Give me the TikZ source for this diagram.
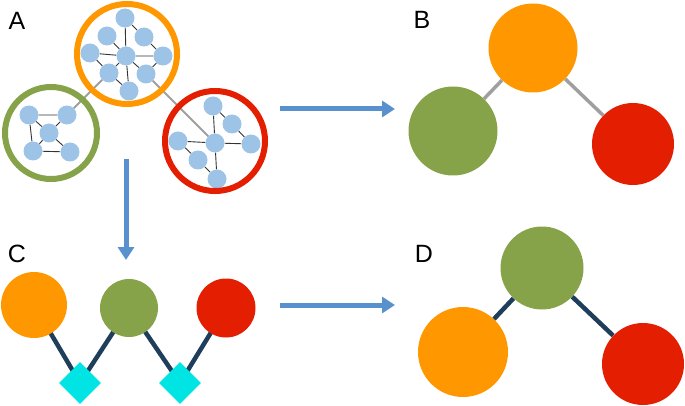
\documentclass[tikz,border=0pt]{standalone}
\usepackage{fontspec}
\setmainfont{Liberation Sans}
\usetikzlibrary{shapes.geometric,arrows.meta,backgrounds}
\definecolor{clOrange}{RGB}{255,152,0}
\definecolor{clGreen}{RGB}{134,163,74}
\definecolor{clRed}{RGB}{228,30,0}
\definecolor{clMember}{RGB}{157,195,230}
\definecolor{clLink}{RGB}{30,62,92}
\definecolor{clArrow}{RGB}{88,145,205}
\definecolor{clKite}{RGB}{0,228,228}
\tikzset{
  member/.style={circle, fill=clMember, minimum size=19pt, inner sep=0pt},
  ring/.style={circle, draw=#1, line width=6pt, inner sep=0pt},
  blob/.style={circle, fill=#1, inner sep=0pt},
  kite/.style={diamond, fill=clKite, minimum width=42pt, minimum height=42pt, inner sep=0pt},
  tie/.style={line width=0.9pt, black!80},
  bridge/.style={line width=2pt, gray!75},
  thickbridge/.style={line width=3.5pt, gray!75},
  link/.style={line width=4.5pt, clLink},
  flow/.style={line width=5pt, clArrow, -{Triangle[length=13pt,width=16pt]}},
  panel/.style={inner sep=0pt, font=\fontsize{25}{30}\selectfont}
}
\begin{document}
\begin{tikzpicture}[x=1pt,y=-1pt]
	\useasboundingbox (0,0) rectangle (685,406);

	% panel A: the three clusters
	\draw
	node[member] at (125,18) (oT) {}
	node[member] at (107,36) (oUL) {}
	node[member] at (144,37) (oUR) {}
	node[member] at (90,53) (oL) {}
	node[member] at (126,56) (oC) {}
	node[member] at (163,56) (oR) {}
	node[member] at (109,73) (oLL) {}
	node[member] at (146,74) (oLR) {}
	node[member] at (129,91) (oB) {}

	node[member] at (29,115) (gTL) {}
	node[member] at (67,115) (gTR) {}
	node[member] at (49,133) (gC) {}
	node[member] at (33,151) (gBL) {}
	node[member] at (70,152) (gBR) {}

	node[member] at (213,106) (rT) {}
	node[member] at (232,124) (rUR) {}
	node[member] at (178,141) (rL) {}
	node[member] at (215,143) (rC) {}
	node[member] at (251,144) (rR) {}
	node[member] at (198,160) (rLL) {}
	node[member] at (217,179) (rB) {};

	\node[ring=clOrange, minimum size=100pt] at (127,54) (orangering) {};
	\node[ring=clGreen, minimum size=92pt] at (51,133) (greenring) {};
	\node[ring=clRed, minimum size=100pt] at (215,141) (redring) {};

	% panel B
	\node[blob=clOrange, minimum size=89pt] at (533,48) (bOrange) {};
	\node[blob=clGreen, minimum size=89pt] at (453,131) (bGreen) {};
	\node[blob=clRed, minimum size=82pt] at (633,144) (bRed) {};

	% panel C
	\node[blob=clOrange, minimum size=66pt] at (34,305) (cOrange) {};
	\node[blob=clGreen, minimum size=58pt] at (129,308) (cGreen) {};
	\node[blob=clRed, minimum size=59pt] at (226,308) (cRed) {};
	\node[kite] at (80,383) (cKiteA) {};
	\node[kite] at (180,383) (cKiteB) {};

	% panel D
	\node[blob=clGreen, minimum size=83pt] at (542,268) (dGreen) {};
	\node[blob=clOrange, minimum size=90pt] at (463,352) (dOrange) {};
	\node[blob=clRed, minimum size=82pt] at (643,364) (dRed) {};

	% labels
	\node[panel] at (17,21) (labA) {A};
	\node[panel] at (422,20) (labB) {B};
	\node[panel] at (17,254) (labC) {C};
	\node[panel] at (424,254) (labD) {D};

	% arrows
	\coordinate (abStart) at (280,109);
	\coordinate (abEnd) at (395,109);
	\coordinate (acStart) at (126,159);
	\coordinate (acEnd) at (126,260);
	\coordinate (cdStart) at (280,305);
	\coordinate (cdEnd) at (395,305);
	\draw[flow] (abStart) -- (abEnd);
	\draw[flow] (acStart) -- (acEnd);
	\draw[flow] (cdStart) -- (cdEnd);

	\begin{scope}[on background layer]
	\draw[tie]
	(oT) -- (oC)
	(oT) -- (oUR)
	(oUL) -- (oC)
	(oUR) -- (oR)
	(oL) -- (oC)
	(oC) -- (oR)
	(oL) -- (oLL)
	(oC) -- (oLL)
	(oC) -- (oB)
	(oC) -- (oLR)
	(oLL) -- (oB)
	(oR) -- (oLR);
	\draw[tie]
	(gTL) -- (gTR)
	(gTL) -- (gBL)
	(gBL) -- (gBR)
	(gC) -- (gTL)
	(gC) -- (gTR)
	(gC) -- (gBL)
	(gC) -- (gBR);
	\draw[tie]
	(rT) -- (rC)
	(rT) -- (rUR)
	(rUR) -- (rR)
	(rC) -- (rR)
	(rL) -- (rC)
	(rL) -- (rLL)
	(rLL) -- (rB)
	(rC) -- (rB);
	\draw[bridge]
	(gTR) -- (oLL)
	(oLR) -- (rC);
	\draw[thickbridge]
	(bGreen) -- (bOrange)
	(bOrange) -- (bRed);
	\draw[link]
	(cOrange.center) -- (cKiteA.center)
	(cGreen.center) -- (cKiteA.center)
	(cGreen.center) -- (cKiteB.center)
	(cRed.center) -- (cKiteB.center);
	\draw[link]
	(dGreen) -- (dOrange)
	(dGreen) -- (dRed);
	\end{scope}
\end{tikzpicture}
\end{document}
